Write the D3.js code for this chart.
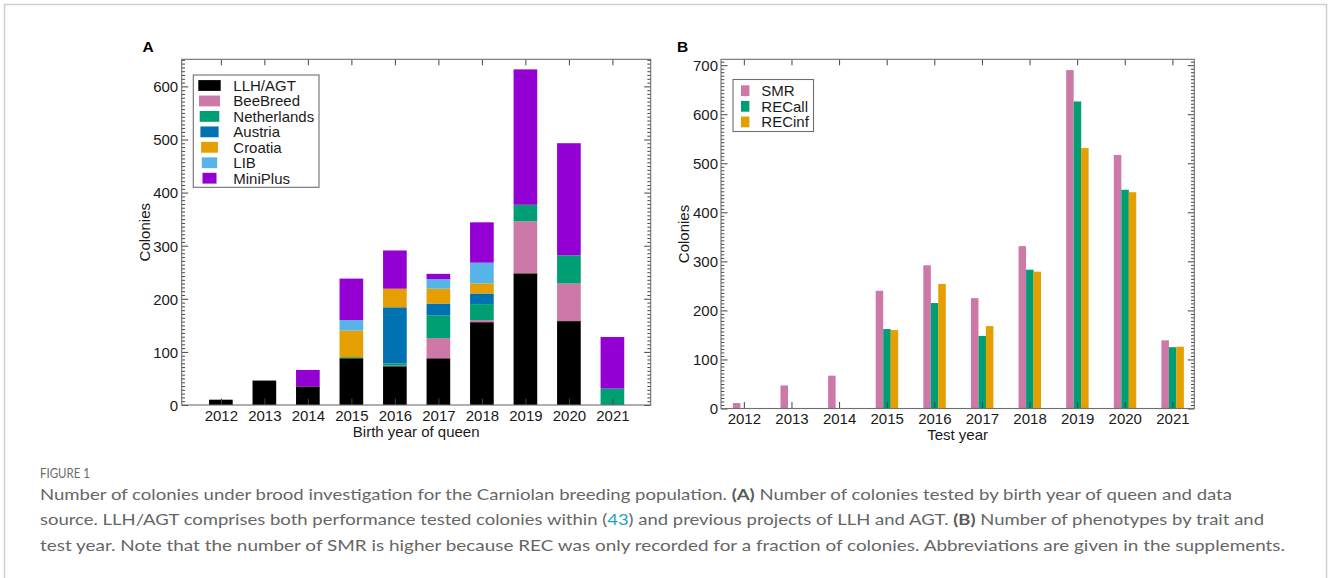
<!DOCTYPE html>
<html>
<head>
<meta charset="utf-8">
<script src="https://cdn.jsdelivr.net/npm/d3@7"></script>
<style>
  html, body { margin: 0; padding: 0; background: #fff; }
  svg { display: block; }
</style>
</head>
<body>
<svg id="chart" width="1328" height="578"></svg>
<script>
// ---------------- DATA ----------------
const years = [2012, 2013, 2014, 2015, 2016, 2017, 2018, 2019, 2020, 2021];

// Panel A: colonies by birth year of queen and data source
const sourceNames = ["LLH/AGT", "BeeBreed", "Netherlands", "Austria", "Croatia", "LIB", "MiniPlus"];
const llhAgt      = [10, 46, 35, 88, 73, 88, 156, 248, 158, 0];
const beeBreed    = [0, 0, 0, 0, 1, 38, 4, 98, 71, 0];
const netherlands = [0, 0, 0, 2, 4, 43, 30, 31, 53, 31];
const austria     = [0, 0, 0, 0, 106, 22, 20, 0, 0, 0];
const croatia     = [0, 0, 0, 50, 35, 28, 19, 0, 0, 0];
const lib         = [0, 0, 0, 20, 0, 18, 39, 0, 0, 0];
const miniPlus    = [0, 0, 31, 78, 72, 10, 76, 255, 211, 97];
const yTicksA = [0, 100, 200, 300, 400, 500, 600];

// Panel B: phenotypes by trait and test year
const traitNames = ["SMR", "RECall", "RECinf"];
const smr    = [11, 47, 67, 240, 292, 225, 331, 690, 517, 139];
const recAll = [0, 0, 0, 162, 215, 148, 283, 626, 446, 125];
const recInf = [0, 0, 0, 160, 254, 168, 279, 531, 441, 126];
const yTicksB = [0, 100, 200, 300, 400, 500, 600, 700];

// ---------------- STYLE ----------------
const sourceColors = ["#000000", "#CC79A7", "#009E73", "#0072B2", "#E69F00", "#56B4E9", "#9400D3"];
const traitColors = ["#CC79A7", "#009E73", "#E69F00"];
const FONT = "'Liberation Sans', Arial, Helvetica, sans-serif";
const frameColor = "#6e6e6e";
const tickColor = "#444";
const textColor = "#1a1a1a";

const svg = d3.select("#chart");

// outer figure border
svg.append("path")
  .attr("d", "M4.5,600 V4.5 H1326.5 V600")
  .attr("fill", "none").attr("stroke", "#cfcfcf").attr("stroke-width", 1.5);

function minorValues(max, step, majorStep) {
  const out = [];
  for (let k = 0; k * step <= max + 1e-9; k++) {
    const v = k * step;
    if (Math.abs(v / majorStep - Math.round(v / majorStep)) > 1e-6) out.push(v);
  }
  return out;
}

function drawFrame(g, x, y, yTicks, yMax, labelPad, xLabelPad) {
  const [x0, x1] = x.range();
  const [y0, y1] = y.range();
  const bx = g.append("g").attr("transform", `translate(0,${y0})`)
    .call(d3.axisBottom(x).tickValues(years).tickFormat(d3.format("d")).tickSize(-6.5).tickPadding(xLabelPad));
  const tx = g.append("g").attr("transform", `translate(0,${y1})`)
    .call(d3.axisTop(x).tickValues(years).tickFormat("").tickSize(-6));
  const ly = g.append("g").attr("transform", `translate(${x0},0)`)
    .call(d3.axisLeft(y).tickValues(yTicks).tickFormat(d3.format("d")).tickSize(-6.5).tickPadding(labelPad));
  const minors = minorValues(yMax, 100 / 14, 100);
  const lm = g.append("g").attr("transform", `translate(${x0},0)`)
    .call(d3.axisLeft(y).tickValues(minors).tickFormat("").tickSize(-3.3));
  const ry = g.append("g").attr("transform", `translate(${x1},0)`)
    .call(d3.axisRight(y).tickValues(yTicks).tickFormat("").tickSize(-6.5));
  const rm = g.append("g").attr("transform", `translate(${x1},0)`)
    .call(d3.axisRight(y).tickValues(minors).tickFormat("").tickSize(-3.3));
  [bx, tx, ly, lm, ry, rm].forEach(a => {
    a.select(".domain").remove();
    a.selectAll(".tick line").attr("stroke", tickColor).attr("stroke-width", 1);
    a.selectAll(".tick text").attr("fill", textColor).attr("font-family", FONT).attr("font-size", 15);
  });
  ly.selectAll(".tick text").attr("dy", "0.36em");
  g.append("rect")
    .attr("x", x0).attr("y", y1).attr("width", x1 - x0).attr("height", y0 - y1)
    .attr("fill", "none").attr("stroke", frameColor).attr("stroke-width", 1.1);
}

// ================= PANEL A =================
const xA = d3.scaleLinear().domain([2011.1, 2021.88]).range([181.7, 650.7]);
const yA = d3.scaleLinear().domain([0, 651]).range([405, 59.3]);
const gA = svg.append("g");

const sourceSeries = [llhAgt, beeBreed, netherlands, austria, croatia, lib, miniPlus];
const tableA = years.map((yr, i) => {
  const row = { year: yr };
  sourceNames.forEach((n, k) => row[n] = sourceSeries[k][i]);
  return row;
});
const stackA = d3.stack().keys(sourceNames)(tableA);
const halfA = 0.272;
gA.append("g").selectAll("g").data(stackA).join("g")
  .attr("fill", (d, i) => sourceColors[i])
  .selectAll("rect").data(d => d.filter(s => s[1] - s[0] > 0)).join("rect")
  .attr("x", d => xA(d.data.year - halfA))
  .attr("width", d => xA(d.data.year + halfA) - xA(d.data.year - halfA))
  .attr("y", d => yA(d[1]))
  .attr("height", d => yA(d[0]) - yA(d[1]));

drawFrame(gA, xA, yA, yTicksA, 651, 3.5, 4.9);

gA.append("text").attr("x", 416.2).attr("y", 436.5).attr("text-anchor", "middle")
  .attr("font-family", FONT).attr("font-size", 15).attr("fill", textColor).text("Birth year of queen");
gA.append("text").attr("transform", "translate(149.5,232.2) rotate(-90)").attr("text-anchor", "middle")
  .attr("font-family", FONT).attr("font-size", 15).attr("fill", textColor).text("Colonies");
gA.append("text").attr("x", 142.5).attr("y", 51.7)
  .attr("font-family", FONT).attr("font-size", 15.5).attr("font-weight", "bold").attr("fill", "#000").text("A");

const legA = gA.append("g");
legA.append("rect").attr("x", 193.3).attr("y", 75).attr("width", 125.7).attr("height", 112.3)
  .attr("fill", "#fff").attr("stroke", frameColor).attr("stroke-width", 1.1);
sourceNames.forEach((n, i) => {
  const cy = 85.5 + i * 15.45;
  const w = 22.4 - i * 1.4;
  legA.append("rect").attr("x", 209.5 - w / 2).attr("y", cy - 5.4).attr("width", w).attr("height", 10.8)
    .attr("fill", sourceColors[i]);
  legA.append("text").attr("x", 233.3).attr("y", cy).attr("dy", "0.36em")
    .attr("font-family", FONT).attr("font-size", 15).attr("fill", textColor).text(n);
});

// ================= PANEL B =================
const xB = d3.scaleLinear().domain([2011.52, 2021.46]).range([721, 1194.3]);
const yB = d3.scaleLinear().domain([0, 712]).range([408.5, 59.3]);
const gB = svg.append("g");
const traitSeries = [smr, recAll, recInf];
const offsets = [-0.152, 0.006, 0.162];
const halfB = 0.079;
traitSeries.forEach((vals, k) => {
  gB.append("g").attr("fill", traitColors[k])
    .selectAll("rect").data(years.map((yr, i) => ({ year: yr, v: vals[i] })).filter(d => d.v > 0)).join("rect")
    .attr("x", d => xB(d.year + offsets[k] - halfB))
    .attr("width", d => xB(d.year + offsets[k] + halfB) - xB(d.year + offsets[k] - halfB))
    .attr("y", d => yB(d.v))
    .attr("height", d => yB(0) - yB(d.v));
});

drawFrame(gB, xB, yB, yTicksB, 712, 3, 4.5);

gB.append("text").attr("x", 957.6).attr("y", 439.5).attr("text-anchor", "middle")
  .attr("font-family", FONT).attr("font-size", 15).attr("fill", textColor).text("Test year");
gB.append("text").attr("transform", "translate(689,234) rotate(-90)").attr("text-anchor", "middle")
  .attr("font-family", FONT).attr("font-size", 15).attr("fill", textColor).text("Colonies");
gB.append("text").attr("x", 677).attr("y", 52)
  .attr("font-family", FONT).attr("font-size", 15.5).attr("font-weight", "bold").attr("fill", "#000").text("B");

const legB = gB.append("g");
legB.append("rect").attr("x", 733).attr("y", 79.5).attr("width", 80.5).attr("height", 52)
  .attr("fill", "#fff").attr("stroke", frameColor).attr("stroke-width", 1.1);
traitNames.forEach((n, i) => {
  const cy = 90.7 + i * 15.6;
  legB.append("rect").attr("x", 741).attr("y", cy - 5.4).attr("width", 8.4).attr("height", 10.8)
    .attr("fill", traitColors[i]);
  legB.append("text").attr("x", 761.3).attr("y", cy).attr("dy", "0.36em")
    .attr("font-family", FONT).attr("font-size", 15).attr("fill", textColor).text(n);
});

// ================= CAPTION =================
const CAPFONT = "Lato, 'Open Sans', sans-serif";
svg.append("text").attr("x", 40).attr("y", 477.5)
  .attr("font-family", CAPFONT).attr("font-size", 12.5).attr("fill", "#6a6a6a")
  .attr("textLength", 50).attr("lengthAdjust", "spacingAndGlyphs").text("FIGURE 1");

const captionLines = [
  [["Number of colonies under brood investigation for the Carniolan breeding population. ", "n"], ["(A)", "b"], [" Number of colonies tested by birth year of queen and data", "n"]],
  [["source. LLH/AGT comprises both performance tested colonies within (", "n"], ["43", "l"], [") and previous projects of LLH and AGT. ", "n"], ["(B)", "b"], [" Number of phenotypes by trait and", "n"]],
  [["test year. Note that the number of SMR is higher because REC was only recorded for a fraction of colonies. Abbreviations are given in the supplements.", "n"]]
];
const captionWidths = [1192, 1224, 1245];
captionLines.forEach((parts, li) => {
  const t = svg.append("text").attr("x", 40).attr("y", 499.5 + li * 25.5)
    .attr("font-family", CAPFONT).attr("font-size", 16).attr("fill", "#666")
    .attr("textLength", captionWidths[li]).attr("lengthAdjust", "spacingAndGlyphs");
  parts.forEach(([s, kind]) => {
    const ts = t.append("tspan").text(s);
    if (kind === "b") ts.attr("font-weight", "bold").attr("fill", "#5a5a5a");
    if (kind === "l") ts.attr("fill", "#1fa3bd");
  });
});
</script>
</body>
</html>
